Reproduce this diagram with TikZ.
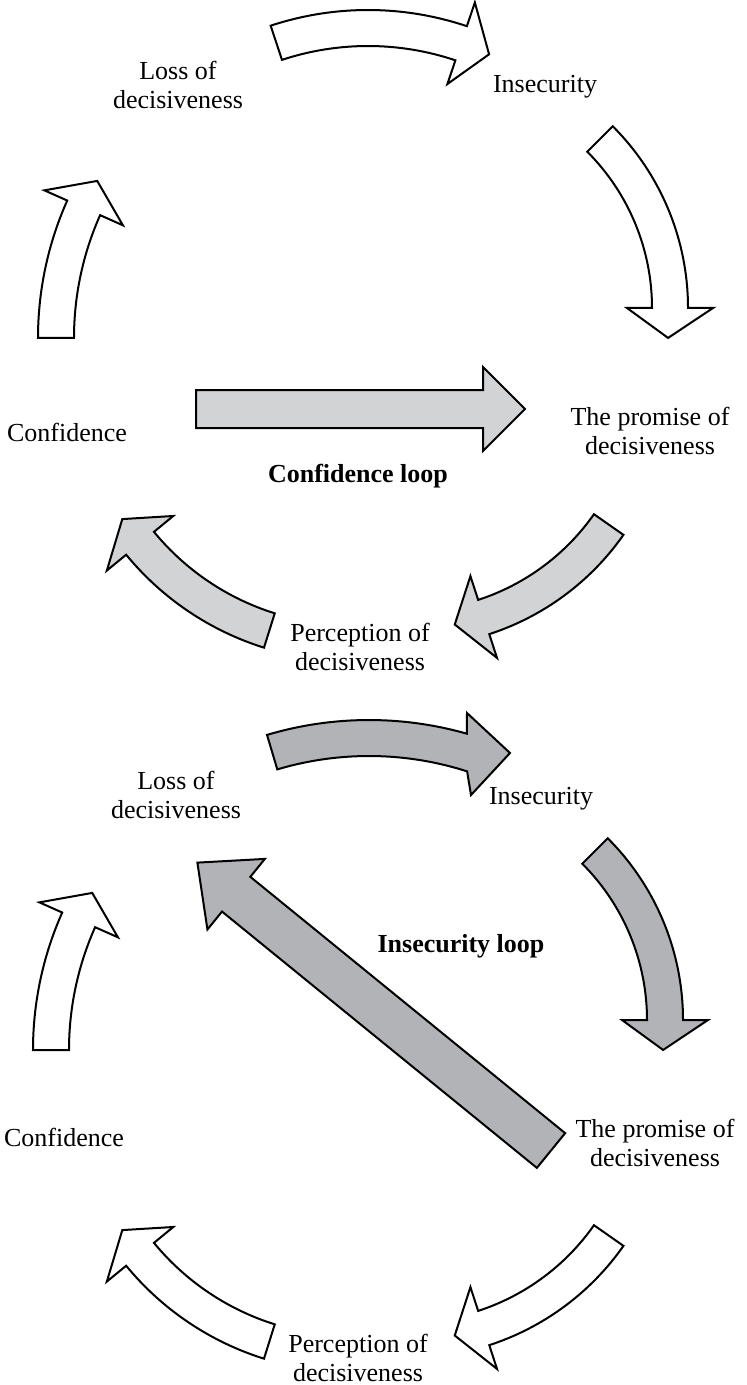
\documentclass[tikz,border=0pt]{standalone}
\usepackage{fontspec}
\setmainfont{Liberation Serif}
\usetikzlibrary{calc}

\definecolor{lightloop}{RGB}{209,211,212}
\definecolor{darkloop}{RGB}{177,179,182}

\tikzset{
  blockarrow/.style={draw=black, line width=1pt, line join=miter, fill=white},
  lightarrow/.style={blockarrow, fill=lightloop},
  darkarrow/.style={blockarrow, fill=darkloop},
  phase/.style={inner sep=0pt, align=center, font=\fontsize{13pt}{14.5pt}\selectfont},
  looptitle/.style={phase, font=\fontsize{13pt}{14.5pt}\selectfont\bfseries},
}

\def\sw{18} % half width of the shaft
\def\hw{43} % half width of the head

% curved block arrow: #1 style, #2 centre, #3 radius, #4 start angle, #5 end angle, #6 tip angle
\newcommand{\curvedarrow}[6]{%
  \draw[#1] ($#2+(#4:#3+\sw)$) arc[start angle=#4, end angle=#5, radius=#3+\sw]
    -- ($#2+(#5:#3+\hw)$) -- ($#2+(#6:#3)$) -- ($#2+(#5:#3-\hw)$)
    -- ($#2+(#5:#3-\sw)$) arc[start angle=#5, end angle=#4, radius=#3-\sw] -- cycle;
}

\begin{document}
\begin{tikzpicture}[x=0.5pt,y=-0.5pt]

    \useasboundingbox (0,0) rectangle (747,1385);

    % confidence loop
    \node[phase] (loss1) at (178,85) {Loss of\\decisiveness};
    \node[phase] (insec1) at (545,87) {Insecurity};
    \node[phase] (prom1) at (650,431) {The promise of\\decisiveness};
    \node[phase] (conf1) at (67,432) {Confidence};
    \node[phase] (perc1) at (360,647) {Perception of\\decisiveness};
    \node[looptitle] (cloop) at (358,476) {Confidence loop};

    \curvedarrow{blockarrow}{(368,320)}{292}{-108.3}{-71.4}{-65.5}
    \curvedarrow{blockarrow}{(431,308)}{239}{-45}{0}{7.2}
    \curvedarrow{blockarrow}{(376,338)}{320}{180}{204}{209.4}
    \curvedarrow{lightarrow}{(408,384)}{245}{35}{72}{79}
    \curvedarrow{lightarrow}{(351,370)}{273}{107.4}{140.6}{146.9}
    \draw[lightarrow] (196,390) -- (483,390) -- (483,367) -- (525,409)
        -- (483,451) -- (483,428) -- (196,428) -- cycle;

    % insecurity loop
    \node[phase] (loss2) at (176,795) {Loss of\\decisiveness};
    \node[phase] (insec2) at (541,799) {Insecurity};
    \node[phase] (prom2) at (655,1143) {The promise of\\decisiveness};
    \node[phase] (conf2) at (64,1137) {Confidence};
    \node[phase] (perc2) at (358,1358) {Perception of\\decisiveness};
    \node[looptitle] (iloop) at (461,946) {Insecurity loop};

    \coordinate (c6) at (369,1077);
    \draw[darkarrow] ($(c6)+(-106.6:357)$) arc[start angle=-106.6, end angle=-74.1, radius=357]
        -- (467,713) -- (510,753) -- (471,795)
        -- ($(c6)+(-72.2:321)$) arc[start angle=-72.2, end angle=-106.6, radius=321] -- cycle;
    \curvedarrow{darkarrow}{(426,1020)}{239}{-45}{0}{7.2}
    \curvedarrow{blockarrow}{(371,1050)}{320}{180}{204}{209.4}
    \curvedarrow{blockarrow}{(408,1095)}{245}{35}{72}{79}
    \curvedarrow{blockarrow}{(351,1081)}{273}{107.4}{140.6}{146.9}
    \begin{scope}[shift={(551,1150.5)}, rotate=140.85]
        \draw[darkarrow] (0,-22.4) -- (406,-22.4) -- (406,-45.5) -- (456,0)
            -- (406,45.5) -- (406,22.4) -- (0,22.4) -- cycle;
    \end{scope}

\end{tikzpicture}
\end{document}
